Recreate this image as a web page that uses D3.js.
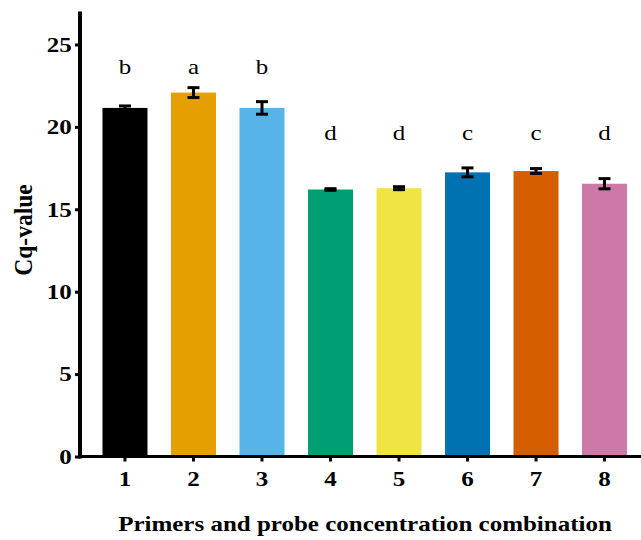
<!DOCTYPE html>
<html>
<head>
<meta charset="utf-8">
<script src="https://cdn.jsdelivr.net/npm/d3@7"></script>
<style>
  body { margin: 0; background: #fff; }
  svg { display: block; }
  svg text { font-family: "Liberation Serif", "Times New Roman", serif; fill: #000; }
</style>
</head>
<body>
<svg id="chart"></svg>
<script>
const width = 641, height = 540;
const stretch = 1.19; // text in the reference is a bit wider than it is tall

// Data
const groups = ["1", "2", "3", "4", "5", "6", "7", "8"];
const cqMeans = [21.15, 22.08, 21.15, 16.2, 16.28, 17.24, 17.32, 16.55];
const cqSD = [0.12, 0.3, 0.38, 0.05, 0.09, 0.27, 0.15, 0.31];
const sigLetters = ["b", "a", "b", "d", "d", "c", "c", "d"];
const letterY = [23.2, 23.2, 23.2, 19.2, 19.2, 19.2, 19.2, 19.2];
const barColors = ["#000000", "#E69F00", "#56B4E9", "#009E73", "#F0E442", "#0072B2", "#D55E00", "#CC79A7"];
const yTicks = [0, 5, 10, 15, 20, 25];

const svg = d3.select("#chart")
    .attr("width", width)
    .attr("height", height);

// Scales
const x = d3.scaleBand().domain(groups).range([80, 649.5])
    .paddingInner(0.343).paddingOuter(0.328);
const y = d3.scaleLinear().domain([0, 27]).range([456.5, 11.5]);

// Bars
svg.append("g").selectAll("rect")
    .data(groups)
    .enter()
    .append("rect")
    .attr("x", d => x(d))
    .attr("width", x.bandwidth())
    .attr("y", (d, i) => y(cqMeans[i]))
    .attr("height", (d, i) => y(0) - y(cqMeans[i]))
    .attr("fill", (d, i) => barColors[i]);

// Error bars (upper and lower)
const capHalf = 6;
const err = svg.append("g").attr("stroke", "#000").attr("stroke-width", 3);
groups.forEach((d, i) => {
    const cx = x(d) + x.bandwidth() / 2;
    const top = y(cqMeans[i] + cqSD[i]);
    const bot = y(cqMeans[i] - cqSD[i]);
    err.append("line").attr("x1", cx).attr("x2", cx).attr("y1", top).attr("y2", bot);
    err.append("line").attr("x1", cx - capHalf).attr("x2", cx + capHalf).attr("y1", top).attr("y2", top);
    err.append("line").attr("x1", cx - capHalf).attr("x2", cx + capHalf).attr("y1", bot).attr("y2", bot);
});

// Significance letters
svg.append("g").selectAll("text")
    .data(groups)
    .enter()
    .append("text")
    .attr("transform", (d, i) => `translate(${x(d) + x.bandwidth() / 2},${y(letterY[i])}) scale(${stretch},1)`)
    .attr("text-anchor", "middle")
    .style("font-size", "21px")
    .text((d, i) => sigLetters[i]);

// Y axis
const yAxis = svg.append("g")
    .attr("transform", "translate(80,0)")
    .call(d3.axisLeft(y).tickValues(yTicks).tickSizeOuter(0).tickSize(5));
yAxis.select(".domain").attr("stroke-width", 4).attr("d", `M0,${y(27)}V${y(0) + 2}`);
yAxis.selectAll(".tick line").attr("stroke-width", 3);
yAxis.selectAll(".tick text")
    .attr("x", -7)
    .attr("transform", `scale(${stretch},1)`)
    .style("font-size", "21px")
    .style("font-weight", "bold");

// X axis
const xAxis = svg.append("g")
    .attr("transform", `translate(0,${y(0)})`)
    .call(d3.axisBottom(x).tickSizeOuter(0).tickSize(5).tickPadding(10));
xAxis.select(".domain").attr("stroke-width", 3).attr("d", `M78,0H${width}`);
xAxis.selectAll(".tick line").attr("stroke-width", 3);
xAxis.selectAll(".tick text")
    .attr("transform", `scale(${stretch},1)`)
    .style("font-size", "21px")
    .style("font-weight", "bold");

// Axis titles
svg.append("text")
    .attr("transform", `translate(365,531) scale(${stretch},1)`)
    .attr("text-anchor", "middle")
    .style("font-size", "21px")
    .style("font-weight", "bold")
    .text("Primers and probe concentration combination");

svg.append("text")
    .attr("text-anchor", "middle")
    .attr("transform", "translate(32,230) rotate(-90) scale(1.12,1.15)")
    .style("font-size", "21px")
    .style("font-weight", "bold")
    .text("Cq-value");
</script>
</body>
</html>
